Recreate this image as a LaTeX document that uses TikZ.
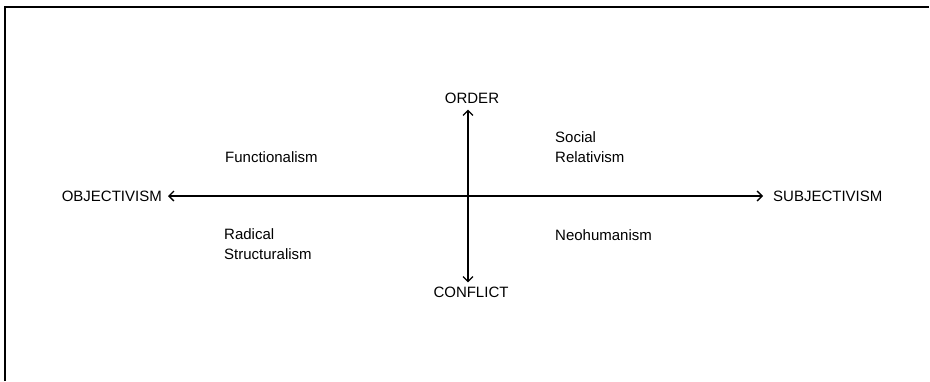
\documentclass[tikz,border=0pt]{standalone}
\usepackage{fontspec}
\setmainfont{Liberation Sans}
\usetikzlibrary{arrows.meta,positioning}

\begin{document}
\begin{tikzpicture}[x=1pt, y=-1pt,
        every node/.style={font=\fontsize{15}{20}\selectfont, inner sep=2pt},
        axis/.style={line width=1.3pt, {Straight Barb[length=5pt,width=10pt,line width=1.3pt]}-{Straight Barb[length=5pt,width=10pt,line width=1.3pt]}},
        paradigm/.style={anchor=west, align=left}]
    \useasboundingbox (0,0) rectangle (930,381);
    % frame
    \draw[line width=1.6pt] (5,381) -- (5,7) -- (929,7);

    \coordinate (centre) at (468,196);

    \node[anchor=east] (objectivism) at (164,196) {OBJECTIVISM};
    \node[anchor=west] (subjectivism) at (771,196) {SUBJECTIVISM};
    \node (order) at (472,98) {ORDER};
    \node (conflict) at (471,292) {CONFLICT};

    \draw[axis] ([xshift=4pt]objectivism.east) -- ([xshift=-8pt]subjectivism.west);
    \draw[axis] ([yshift=-4pt]order.south -| centre) -- ([yshift=2pt]conflict.north -| centre);

    \node[paradigm] (functionalism) at (223,157) {Functionalism};
    \node[paradigm] (relativism) at (553,147) {Social\\Relativism};
    \node[paradigm] (structuralism) at (222,244) {Radical\\Structuralism};
    \node[paradigm] (neohumanism) at (553,235) {Neohumanism};
\end{tikzpicture}
\end{document}
